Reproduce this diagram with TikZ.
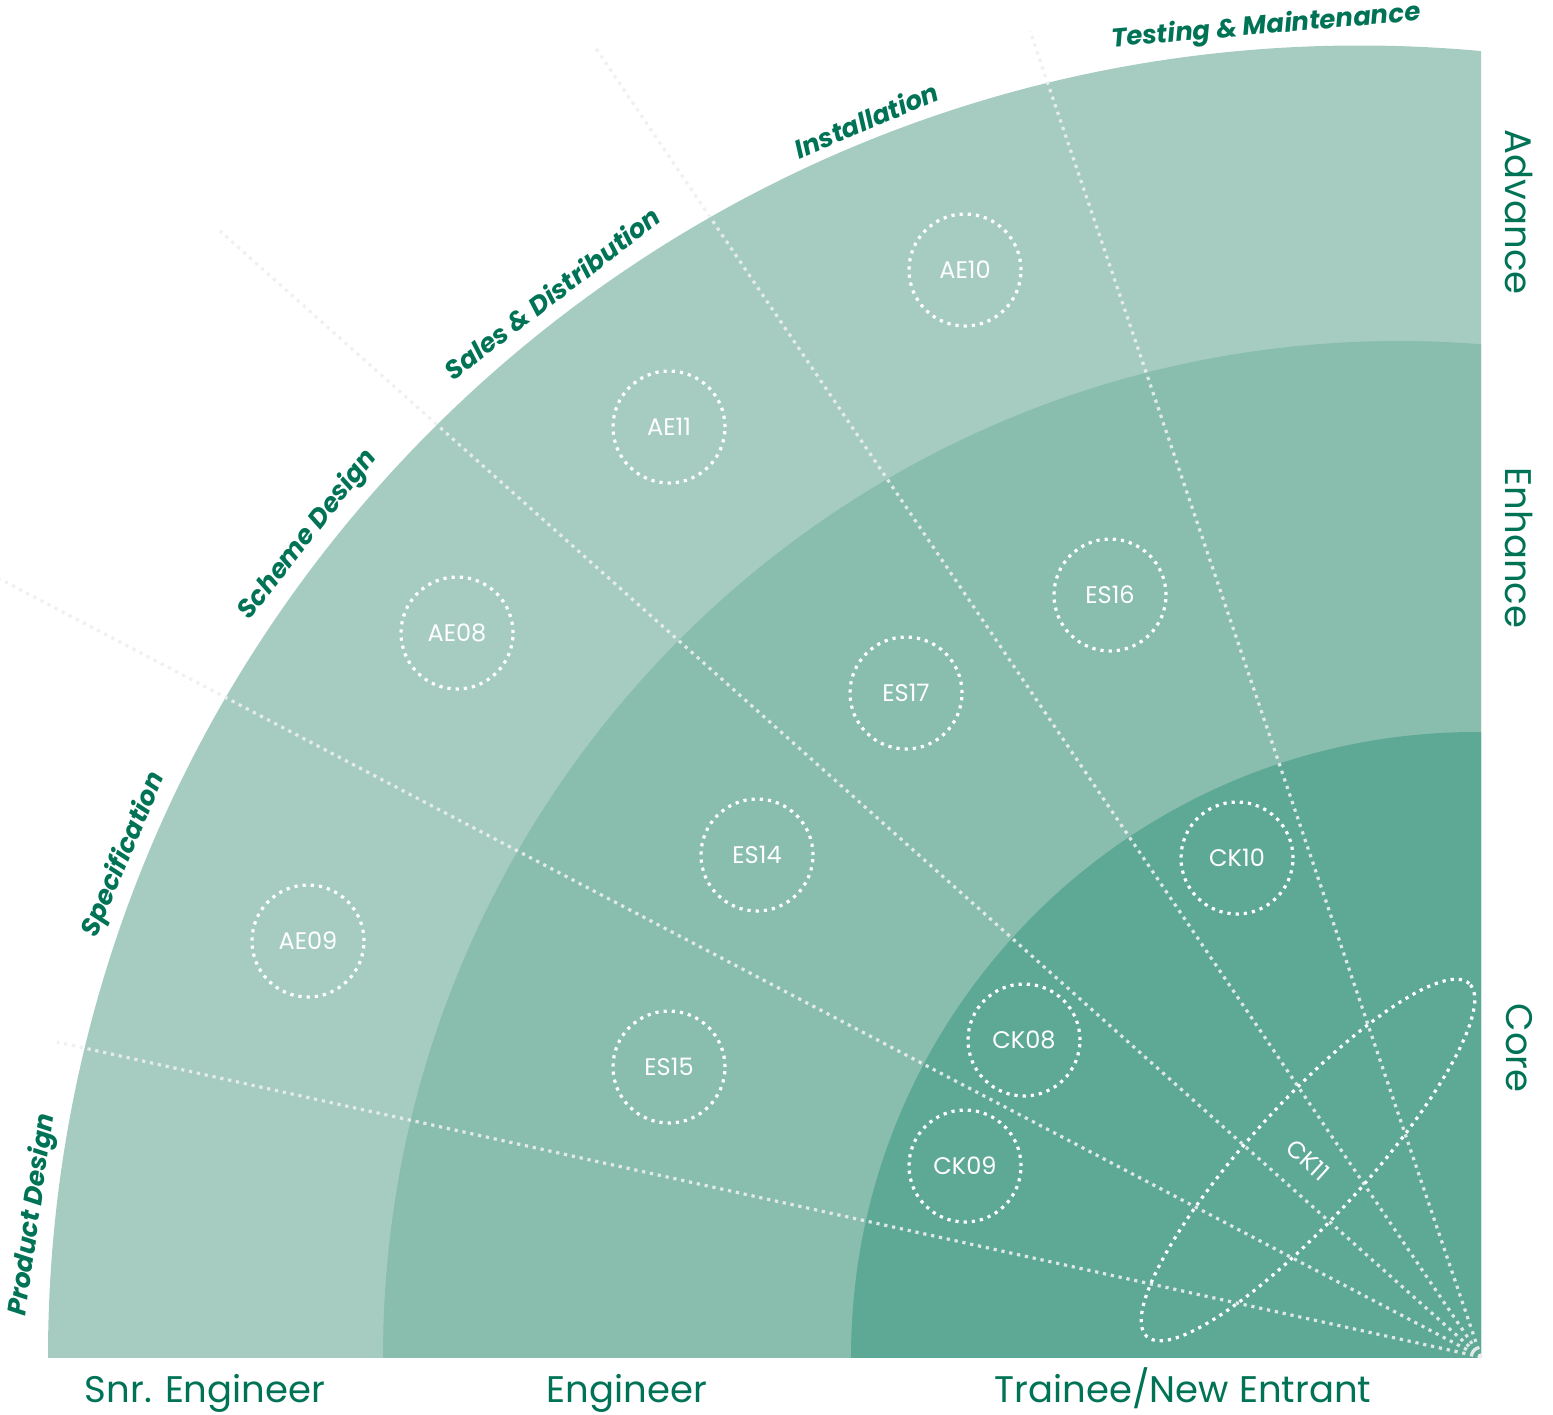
\documentclass[tikz,border=0pt]{standalone}
\usepackage{fontspec}
\setmainfont{Poppins}
\usetikzlibrary{shapes.geometric}
\definecolor{bandouter}{RGB}{166,204,194}
\definecolor{bandmid}{RGB}{137,190,175}
\definecolor{bandcore}{RGB}{94,169,149}
\definecolor{labelgreen}{RGB}{0,115,86}
\definecolor{spoke}{RGB}{236,239,238}
\begin{document}
\begin{tikzpicture}[x=1pt, y=-1pt,
    spokeline/.style={spoke, opacity=0.9, line width=3.2pt, dash pattern=on 3.2pt off 4.8pt},
    unit/.style={circle, draw=white, line width=3.2pt, dash pattern=on 3.2pt off 5pt,
        minimum size=112pt, inner sep=0pt, text=white, font=\fontsize{24}{28}\selectfont},
    unittext/.style={text=white, font=\fontsize{24}{28}\selectfont},
    stage/.style={text=labelgreen, font=\fontsize{26}{30}\selectfont\bfseries\itshape},
    level/.style={text=labelgreen, font=\fontsize{37}{44}\selectfont}]
    \useasboundingbox (0,0) rectangle (1553,1414);
    % Bands
    \begin{scope}
        \clip (0,0) rectangle (1481,1357);
        \fill[bandouter] (1359.5,1357) circle[radius=1311.5pt];
        \fill[bandmid] (1399,1357) circle[radius=1016pt];
        \fill[bandcore] (1476,1357) circle[radius=625pt];
    \end{scope}
    % Spokes
    \coordinate (o) at (1481,1357);
    \coordinate (s1) at (57,1042);
    \coordinate (s2) at (0,579);
    \coordinate (s3) at (220,231);
    \coordinate (s4) at (595,47);
    \coordinate (s5) at (1030,31);
    \foreach \i in {1,...,5}
        \draw[spokeline] (o) -- (s\i);
    % Units
    \node[unit] (ae10) at (965,270) {AE10};
    \node[unit] (ae11) at (669,427) {AE11};
    \node[unit] (ae08) at (457,633) {AE08};
    \node[unit] (ae09) at (308,941) {AE09};
    \node[unit] (es16) at (1110,595) {ES16};
    \node[unit] (es17) at (906,693) {ES17};
    \node[unit] (es14) at (757,855) {ES14};
    \node[unit] (es15) at (669,1067) {ES15};
    \node[unit] (ck10) at (1237,858) {CK10};
    \node[unit] (ck08) at (1024,1040) {CK08};
    \node[unit] (ck09) at (965,1166) {CK09};
    \node[unit, ellipse, minimum width=478pt, minimum height=116pt, rotate=47.6] (ck11) at (1308,1160) {};
    \node[unittext, rotate=-42] (ck11t) at (ck11.center) {CK11};
    % Stages
    \node[stage, rotate=82] (pdes) at (33,1215) {Product Design};
    \node[stage, rotate=67] (spec) at (124,855) {Specification};
    \node[stage, rotate=52] (sdes) at (308,535) {Scheme Design};
    \node[stage, rotate=37.5] (sales) at (552,293) {Sales \& Distribution};
    \node[stage, rotate=23] (inst) at (866,120) {Installation};
    \node[stage, rotate=5] (test) at (1266,27) {Testing \& Maintenance};
    % Levels
    \node[level, rotate=-90] (adv) at (1519,212) {Advance};
    \node[level, rotate=-90] (enh) at (1519,548) {Enhance};
    \node[level, rotate=-90] (core) at (1519,1048) {Core};
    \node[level, anchor=base] (snr) at (205,1402) {Snr. Engineer};
    \node[level, anchor=base] (eng) at (627,1402) {Engineer};
    \node[level, anchor=base] (trn) at (1183,1402) {Trainee/New Entrant};
\end{tikzpicture}
\end{document}
